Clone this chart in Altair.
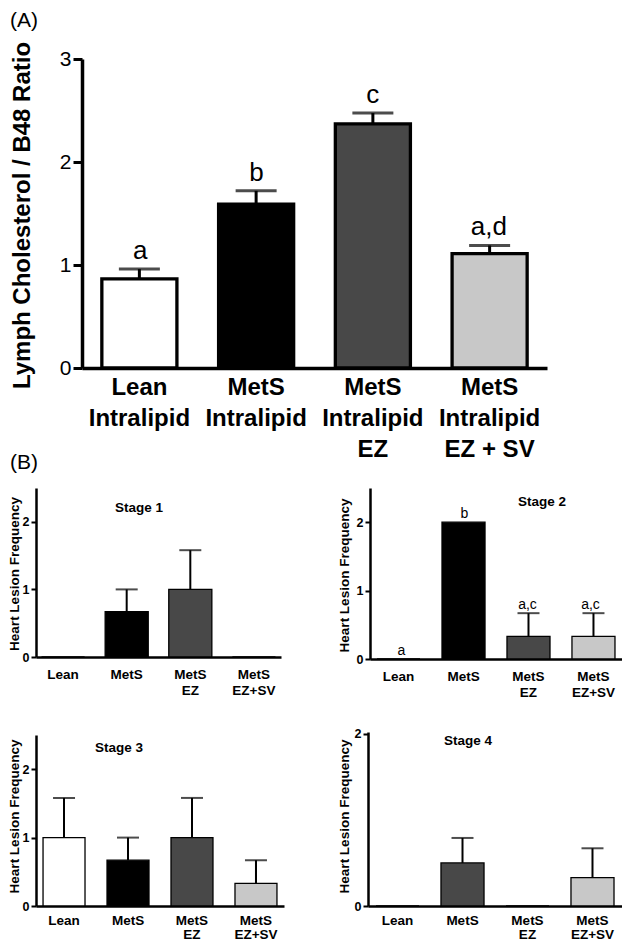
import altair as alt
import pandas as pd

# ---------------- data ----------------
# Panel A
groups_a = ["Lean\nIntralipid", "MetS\nIntralipid", "MetS\nIntralipid\nEZ", "MetS\nIntralipid\nEZ + SV"]
ratio_mean = [0.865, 1.59, 2.37, 1.11]
ratio_upper = [0.96, 1.72, 2.475, 1.19]
letters_a = ["a", "b", "c", "a,d"]
fills_a = ["#ffffff", "#000000", "#484848", "#c8c8c8"]

# Panel B
stage_groups = ["Lean", "MetS", "MetS\nEZ", "MetS\nEZ+SV"]
stage1_mean = [0, 0.67, 1.0, 0]
stage1_upper = [None, 1.0, 1.58, None]
stage2_mean = [0, 2.0, 0.33, 0.33]
stage2_upper = [None, None, 0.67, 0.67]
stage2_letters = ["a", "b", "a,c", "a,c"]
stage3_mean = [1.0, 0.67, 1.0, 0.33]
stage3_upper = [1.58, 1.0, 1.58, 0.67]
stage4_mean = [0, 0.5, 0, 0.33]
stage4_upper = [None, 0.79, None, 0.67]
stage_fills = ["#ffffff", "#000000", "#484848", "#c8c8c8"]
stage4_fills = ["#ffffff", "#484848", "#484848", "#c8c8c8"]

FONT = "Liberation Sans, Arial, Helvetica, sans-serif"
W, H = 614, 935


def make_df(groups, mean, upper, fills, letters=None):
    df = pd.DataFrame({"grp": groups, "mean": mean, "err": upper, "fill": fills})
    df["err"] = pd.to_numeric(df["err"])
    df["top"] = df[["mean", "err"]].max(axis=1)
    df["letter"] = letters if letters is not None else [""] * len(groups)
    return df


def panel(df, cats, xrange, pin, pout, yrange, ydomain, yticks, ytitle, title_x, title_y,
          big=False, lab_pad=None, lab_lh=None):
    def xs():
        return alt.Scale(domain=cats, range=xrange, paddingInner=pin, paddingOuter=pout)

    def ys():
        return alt.Scale(domain=ydomain, range=yrange, nice=False, zero=True)

    x_axis_y = yrange[0]
    y_axis_x = xrange[0]
    if big:
        lab_fs, lh, pad, dom_w = 24, 31, 7, 3.5
        ylab_fs, ylab_w, tick_s, tick_w, ylab_pad = 21, "normal", 9, 3, 2
        ttl_fs = 24
        bar_sw, err_sw, cap, let_fs, let_dy = 3.3, 3, 41, 26, -10
    else:
        lab_fs, lh, pad, dom_w = 13.5, 16, 10, 2.5
        ylab_fs, ylab_w, tick_s, tick_w, ylab_pad = 12.5, "bold", 5, 2, 2
        ttl_fs = 13.5
        bar_sw, err_sw, cap, let_fs, let_dy = 1.3, 2, 22, 14, -4
    if lab_pad is not None:
        pad = lab_pad
    if lab_lh is not None:
        lh = lab_lh

    x_axis = alt.Axis(
        orient="bottom", offset=x_axis_y - H, title=None, ticks=False, tickSize=0,
        domainColor="black", domainWidth=dom_w, grid=False, labelAngle=0,
        labelExpr="split(datum.label, '\\n')", labelFont=FONT, labelFontSize=lab_fs,
        labelFontWeight="bold", labelColor="black", labelPadding=pad,
        labelLineHeight=lh, labelBaseline="top", labelOverlap=False,
    )
    y_axis = alt.Axis(
        orient="left", offset=-y_axis_x, values=list(yticks), format="d", grid=False,
        domainColor="black", domainWidth=dom_w, tickColor="black", tickSize=tick_s,
        tickWidth=tick_w, labelFont=FONT, labelFontSize=ylab_fs, labelFontWeight=ylab_w,
        labelColor="black", labelPadding=ylab_pad, labelOverlap=False, labelFlush=False,
        title=ytitle, titleFont=FONT, titleFontSize=ttl_fs, titleFontWeight="bold",
        titleColor="black", titleAngle=270, titleAlign="center", titleBaseline="middle",
        titleX=title_x - y_axis_x, titleY=title_y,
    )
    bars = alt.Chart(df).mark_bar(stroke="black", strokeWidth=bar_sw).encode(
        x=alt.X("grp:N", scale=xs(), sort=None, axis=x_axis),
        y=alt.Y("mean:Q", scale=ys(), stack=None, axis=y_axis),
        color=alt.Color("fill:N", scale=None),
    )
    layers = [bars]
    edf = df.dropna(subset=["err"])
    if len(edf):
        rule = alt.Chart(edf).mark_rule(color="black", strokeWidth=err_sw).encode(
            x=alt.X("grp:N", scale=xs(), sort=None, axis=None),
            y=alt.Y("mean:Q", scale=ys(), axis=None),
            y2="err:Q",
        )
        capm = alt.Chart(edf).mark_tick(color="black", orient="horizontal", size=cap,
                                        thickness=err_sw).encode(
            x=alt.X("grp:N", scale=xs(), sort=None, axis=None),
            y=alt.Y("err:Q", scale=ys(), axis=None),
        )
        layers += [rule, capm]
    ldf = df[df["letter"] != ""]
    if len(ldf):
        txt = alt.Chart(ldf).mark_text(font=FONT, fontSize=let_fs, color="black",
                                       baseline="alphabetic", dy=let_dy).encode(
            x=alt.X("grp:N", scale=xs(), sort=None, axis=None),
            y=alt.Y("top:Q", scale=ys(), axis=None),
            text="letter:N",
        )
        layers.append(txt)
    return layers


def label(text, x, y, size, weight="normal", align="left", baseline="top"):
    return alt.Chart(pd.DataFrame({"t": [text]})).mark_text(
        font=FONT, fontSize=size, fontWeight=weight, color="black", align=align,
        baseline=baseline,
    ).encode(x=alt.value(x), y=alt.value(y), text="t:N")


df_a = make_df(groups_a, ratio_mean, ratio_upper, fills_a, letters_a)
df_s1 = make_df(stage_groups, stage1_mean, stage1_upper, stage_fills)
df_s2 = make_df(stage_groups, stage2_mean, stage2_upper, stage_fills, stage2_letters)
df_s3 = make_df(stage_groups, stage3_mean, stage3_upper, stage_fills)
df_s4 = make_df(stage_groups, stage4_mean, stage4_upper, stage4_fills)

ytitle_b = "Heart Lesion Frequency"

pA = panel(df_a, groups_a, [74, 539], 0.357, 0.17, [360, 51], [0, 3], [0, 1, 2, 3],
           "Lymph Cholesterol / B48 Ratio", 14, 207, big=True)
s1 = panel(df_s1, stage_groups, [28, 273], 0.323, 0.087, [649, 480], [0, 2.5], [0, 1, 2],
           ytitle_b, 6.5, 565.5)
s2 = panel(df_s2, stage_groups, [362, 614], 0.338, 0.108, [651, 480], [0, 2.5], [0, 1, 2],
           ytitle_b, 336.5, 567)
s3 = panel(df_s3, stage_groups, [28, 276], 0.344, 0.11, [898, 727], [0, 2.5], [0, 1, 2],
           ytitle_b, 6.5, 808, lab_pad=7, lab_lh=14)
s4 = panel(df_s4, stage_groups, [360, 614], 0.338, 0.123, [898, 724], [0, 2.02], [0, 1, 2],
           ytitle_b, 336.5, 808, lab_pad=7, lab_lh=14)

annotations = [
    label("(A)", 2, 2, 21),
    label("(B)", 2, 444, 21),
    label("Stage 1", 131, 500, 13.5, "bold", "center", "middle"),
    label("Stage 2", 534, 494, 13.5, "bold", "center", "middle"),
    label("Stage 3", 111, 740, 13.5, "bold", "center", "middle"),
    label("Stage 4", 460, 733, 13.5, "bold", "center", "middle"),
]

chart = alt.layer(*(pA + s1 + s2 + s3 + s4 + annotations)).resolve_scale(
    x="independent", y="independent"
).properties(
    width=W, height=H, autosize=alt.AutoSizeParams(type="none"), padding=0,
    background="white",
).configure_view(stroke=None)

chart.save("out.html", embed_options={"renderer": "svg", "actions": False})
